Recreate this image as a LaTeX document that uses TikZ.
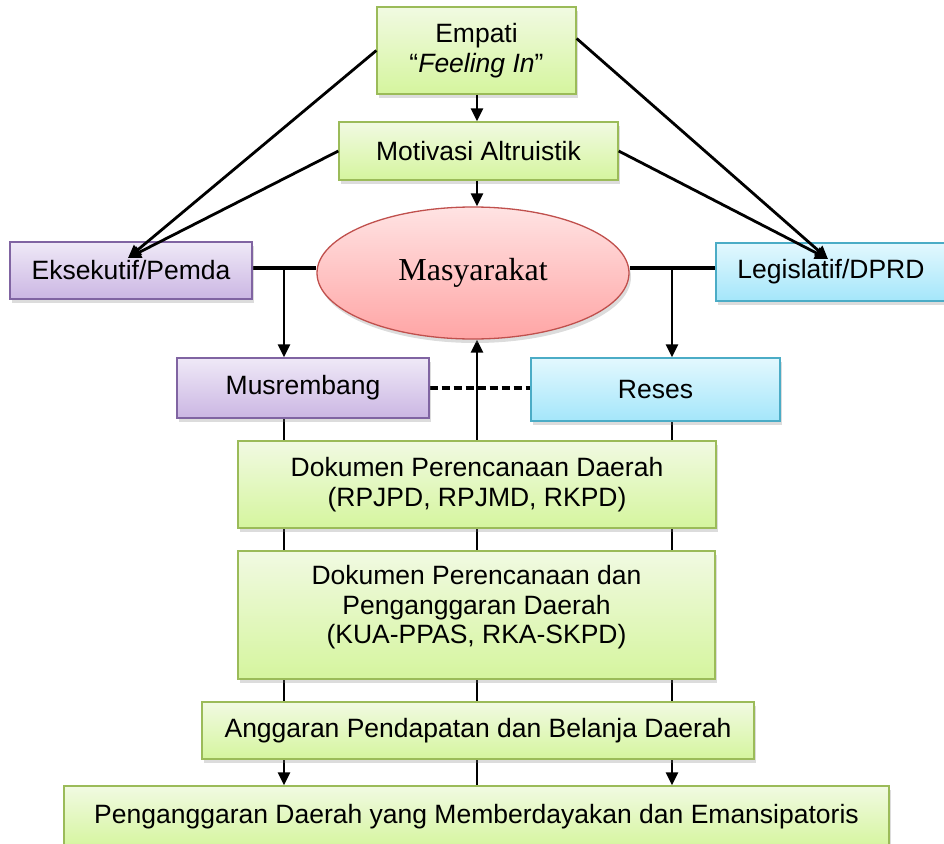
\documentclass[tikz,border=0pt]{standalone}
\usepackage{fontspec}
\setmainfont{Liberation Sans}
\newfontfamily\masfont{Liberation Serif}
\usetikzlibrary{arrows.meta,shapes.geometric,shadows,calc}
\pgfdeclarelayer{background}
\pgfsetlayers{background,main}
\definecolor{grnB}{HTML}{9BBB59}
\definecolor{grnT}{HTML}{F1FAE2}
\definecolor{grnD}{HTML}{D5F59E}
\definecolor{purB}{HTML}{8064A2}
\definecolor{purT}{HTML}{EFE9F7}
\definecolor{purD}{HTML}{CBB6E3}
\definecolor{bluB}{HTML}{4BACC6}
\definecolor{bluT}{HTML}{E3F8FE}
\definecolor{bluD}{HTML}{A4E6FA}
\definecolor{redB}{HTML}{C0504D}
\definecolor{redT}{HTML}{FFE3E3}
\definecolor{redD}{HTML}{FFA5A5}
\begin{document}
\begin{tikzpicture}[x=1pt,y=-1pt,
  box/.style={rectangle, inner sep=0pt, align=center,
    font=\fontsize{26.5}{30}\selectfont, line width=1.3pt,
    drop shadow={opacity=0.28, shadow xshift=2pt, shadow yshift=-4pt}},
  gbox/.style={box, draw=grnB, top color=grnT, bottom color=grnD},
  pbox/.style={box, draw=purB, top color=purT, bottom color=purD},
  bbox/.style={box, draw=bluB, top color=bluT, bottom color=bluD},
  arr/.style={line width=2.8pt, -{Triangle[length=13pt,width=12pt]}},
  hln/.style={line width=3.4pt},
  dln/.style={line width=3.2pt, dash pattern=on 8pt off 4pt},
]
\useasboundingbox (0,0) rectangle (944,843);

\node[gbox, minimum width=199pt, minimum height=87pt] (emp) at (476.5,50.5)
  {Empati\\ ``\textit{Feeling In}''};
\node[gbox, minimum width=279pt, minimum height=58pt] (mot) at (478.5,151)
  {Motivasi Altruistik};
\node[ellipse, inner sep=0pt, draw=redB, line width=1.3pt, top color=redT, bottom color=redD,
  minimum width=312pt, minimum height=132pt,
  drop shadow={opacity=0.28, shadow xshift=2pt, shadow yshift=-4pt},
  font=\masfont\fontsize{32}{36}\selectfont] (mas) at (473,273) {Masyarakat};
\node[pbox, minimum width=242pt, minimum height=57pt] (eks) at (131,270.5)
  {Eksekutif/Pemda};
\node[bbox, minimum width=230pt, minimum height=58pt] (leg) at (831,272)
  {Legislatif/DPRD};
\node[pbox, minimum width=252pt, minimum height=60pt] (mus) at (303,388)
  {Musrembang};
\node[bbox, minimum width=249pt, minimum height=63pt] (res) at (655.5,389.5)
  {Reses};
\node[gbox, minimum width=478pt, minimum height=87pt] (dok1) at (477,484.5)
  {Dokumen Perencanaan Daerah\\ (RPJPD, RPJMD, RKPD)};
\node[gbox, minimum width=477pt, minimum height=128pt] (dok2) at (476.5,615)
  {\raisebox{7pt}[\height][\depth]{\begin{tabular}{@{}c@{}}Dokumen Perencanaan dan\\[-0.5pt] Penganggaran Daerah\\[-0.5pt] (KUA-PPAS, RKA-SKPD)\end{tabular}}};
\node[gbox, minimum width=552pt, minimum height=57pt] (apbd) at (478,730.5)
  {Anggaran Pendapatan dan Belanja Daerah};
\node[gbox, minimum width=825pt, minimum height=62pt] (fin) at (476.5,817)
  {Penganggaran Daerah yang Memberdayakan dan Emansipatoris};

\coordinate (jl) at (284,268);
\coordinate (jr) at (672,268);
\coordinate (cx) at (477,0);
\coordinate (eksT) at (128,258);
\coordinate (legT) at (828,259);

\begin{pgfonlayer}{background}
  \draw[hln] (eks.east |- jl) -- (mas.west |- jl);
  \draw[hln] (mas.east |- jr) -- (leg.west |- jr);
  \draw[arr] (jl) -- (jl |- mus.north);
  \draw[arr] (jr) -- (jr |- res.north);
  \draw[arr] (jl |- mus.south) -- (jl |- fin.north);
  \draw[arr] (jr |- res.south) -- (jr |- fin.north);
  \draw[arr] (cx |- fin.north) -- (cx |- mas.south);
  \draw[dln] (mus.east) -- (mus.east -| res.west);
\end{pgfonlayer}

\draw[arr] (cx |- emp.south) -- (cx |- mot.north);
\draw[arr] (cx |- mot.south) -- (cx |- mas.north);
\draw[arr] (emp.west) -- (eksT);
\draw[arr] (mot.west) -- (eksT);
\draw[arr] ([yshift=12pt]emp.east) -- (legT);
\draw[arr] (mot.east) -- (legT);
\end{tikzpicture}
\end{document}
